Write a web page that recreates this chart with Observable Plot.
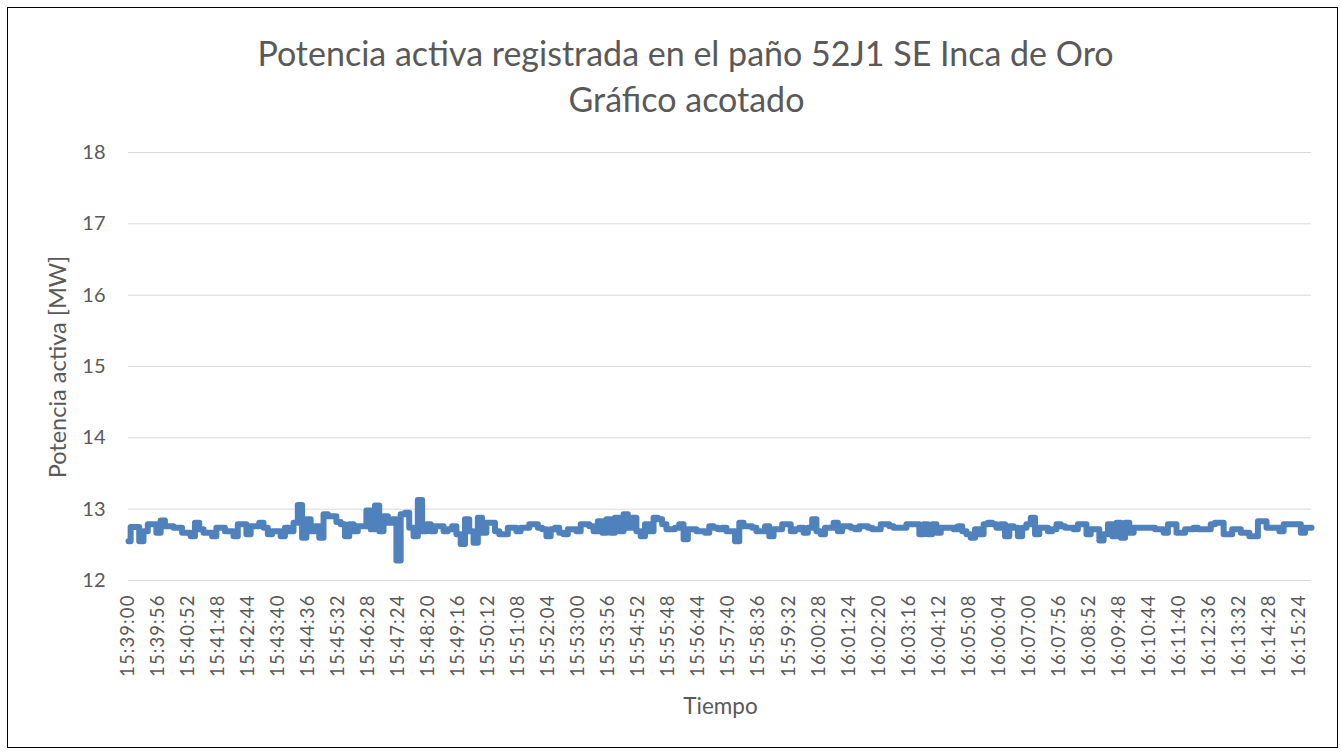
<!DOCTYPE html>
<html>
<head>
<meta charset="utf-8">
<script src="https://cdn.jsdelivr.net/npm/d3@7"></script>
<script src="https://cdn.jsdelivr.net/npm/@observablehq/plot@0.6"></script>
<style>
  body { margin: 0; background: #fff; font-family: Lato, sans-serif; }
  #wrap { position: relative; width: 1341px; height: 752px; overflow: hidden; background: #fff; }
  #frame { position: absolute; left: 7px; top: 7px; width: 1329px; height: 739px; border: 1.5px solid #000; box-sizing: content-box; pointer-events: none; }
  #chart { position: absolute; left: 0; top: 0; }
  .t { position: absolute; left: 0; width: 1341px; text-align: center; color: #595959; white-space: nowrap; line-height: 1; }
  #title1 { top: 36px; font-size: 34px; left: 15px; }
  #title2 { top: 82px; font-size: 34px; left: 16px; }
  #xlabel { top: 695px; font-size: 22.5px; left: 0; width: 1441px; }
  #ylabel { position: absolute; left: 58px; top: 367px; transform: translate(-50%, -50%) rotate(-90deg); font-size: 23.5px; color: #595959; white-space: nowrap; line-height: 1; }
  g[aria-label="x-axis tick label"] text { letter-spacing: 1.1px; }
</style>
</head>
<body>
<div id="wrap">
  <div id="chart"></div>
  <div class="t" id="title1">Potencia activa registrada en el paño 52J1 SE Inca de Oro</div>
  <div class="t" id="title2">Gráfico acotado</div>
  <div class="t" id="xlabel">Tiempo</div>
  <div id="ylabel">Potencia activa [MW]</div>
  <div id="frame"></div>
</div>
<script>
// Sample interval: 8 s, starting 15:39:00 (one tick label every 7 samples = 56 s)
const tickLabels = ["15:39:00","15:39:56","15:40:52","15:41:48","15:42:44","15:43:40","15:44:36","15:45:32","15:46:28","15:47:24",
  "15:48:20","15:49:16","15:50:12","15:51:08","15:52:04","15:53:00","15:53:56","15:54:52","15:55:48","15:56:44",
  "15:57:40","15:58:36","15:59:32","16:00:28","16:01:24","16:02:20","16:03:16","16:04:12","16:05:08","16:06:04",
  "16:07:00","16:07:56","16:08:52","16:09:48","16:10:44","16:11:40","16:12:36","16:13:32","16:14:28","16:15:24"];
const samplesPerLabel = 7;

const yTicks = [12, 13, 14, 15, 16, 17, 18];

// Active power [MW]
const power = [
  12.55,12.75,12.75,12.55,12.69,12.79,12.79,12.67,12.84,12.76,12.76,12.74,12.74,12.67,12.67,12.62,12.81,12.72,12.67,12.67,
  12.62,12.74,12.74,12.69,12.69,12.62,12.79,12.79,12.65,12.76,12.76,12.81,12.74,12.65,12.69,12.69,12.62,12.74,12.69,12.81,
  13.06,12.60,12.86,12.69,12.76,12.60,12.93,
  12.90,12.90,12.82,12.79,12.62,12.79,12.69,12.76,12.76,12.98,12.72,13.05,12.69,12.90,12.81,12.86,12.28,12.93,12.95,12.74,
  12.62,13.13,12.69,12.79,12.69,12.76,12.76,12.69,12.72,12.76,12.65,12.51,12.86,12.69,12.53,12.88,12.67,12.81,12.81,12.69,
  12.65,12.65,12.74,12.74,12.69,
  12.74,12.74,12.79,12.79,12.74,12.72,12.62,12.72,12.74,12.67,12.65,12.72,12.72,12.69,12.79,12.79,12.76,12.69,12.83,12.67,
  12.86,12.67,12.88,12.69,12.93,12.74,12.88,12.69,12.62,12.79,12.69,12.88,12.86,12.79,12.72,12.72,12.74,12.79,12.58,12.72,
  12.72,12.69,12.69,12.67,12.76,
  12.74,12.72,12.74,12.69,12.69,12.55,12.81,12.76,12.76,12.74,12.69,12.69,12.76,12.62,12.72,12.72,12.79,12.79,12.69,12.72,
  12.74,12.67,12.74,12.86,12.69,12.65,12.74,12.74,12.81,12.69,12.76,12.76,12.74,12.72,12.76,12.76,12.74,12.72,12.72,12.79,
  12.79,12.76,12.74,12.74,12.74,12.79,
  12.79,12.79,12.65,12.79,12.65,12.79,12.67,12.74,12.74,12.74,12.72,12.76,12.69,12.65,12.60,12.72,12.65,12.79,12.81,12.79,
  12.74,12.79,12.62,12.76,12.74,12.62,12.74,12.79,12.88,12.65,12.74,12.74,12.69,12.72,12.79,12.76,12.74,12.74,12.72,12.79,
  12.79,12.65,12.72,12.72,12.56,
  12.65,12.79,12.62,12.81,12.60,12.81,12.67,12.74,12.74,12.74,12.74,12.74,12.72,12.72,12.67,12.79,12.79,12.67,12.67,12.72,
  12.72,12.74,12.72,12.72,12.72,12.79,12.81,12.81,12.65,12.65,12.72,12.72,12.67,12.67,12.62,12.62,12.83,12.83,12.74,12.74,
  12.74,12.69,12.79,12.79,12.79,12.79,12.67,12.74,12.74
];

const data = power.map((v, i) => ({i, v}));
const tickIdx = tickLabels.map((_, k) => k * samplesPerLabel);
const labelAt = new Map(tickIdx.map((t, k) => [t, tickLabels[k]]));

const chart = Plot.plot({
  width: 1341,
  height: 752,
  marginLeft: 128,
  marginRight: 30,
  marginTop: 152,
  marginBottom: 172,
  style: { color: "#595959", fontFamily: "Lato, sans-serif", background: "transparent" },
  x: { domain: [0, power.length - 1] },
  y: { domain: [12, 18] },
  marks: [
    Plot.gridY(yTicks, { stroke: "#d9d9d9", strokeOpacity: 1, strokeWidth: 1 }),
    Plot.axisY(yTicks, { tickSize: 0, tickPadding: 23, fontSize: 20, label: null, fill: "#595959", tickFormat: d => String(d) }),
    Plot.axisX(tickIdx, { tickSize: 0, tickPadding: 14, tickRotate: -90, fontSize: 18.5, label: null, fill: "#595959", tickFormat: d => labelAt.get(d) }),
    Plot.lineY(data, { x: "i", y: "v", curve: "step", stroke: "#4f81bd", strokeWidth: 6, strokeLinejoin: "round", strokeLinecap: "round" })
  ]
});
document.getElementById("chart").appendChild(chart);
</script>
</body>
</html>
